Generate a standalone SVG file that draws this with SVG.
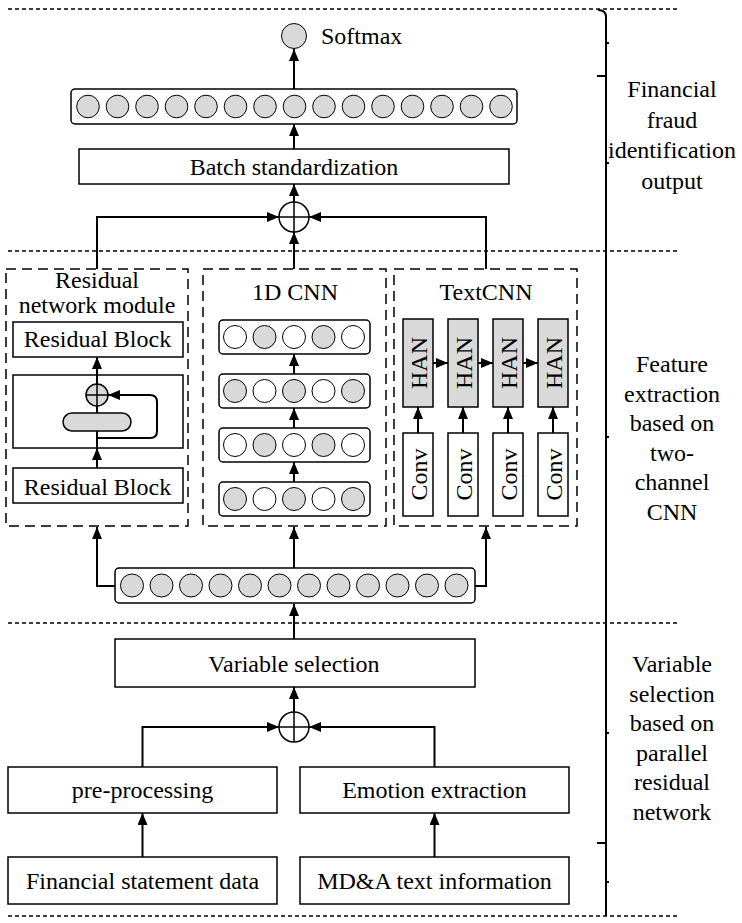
<svg xmlns="http://www.w3.org/2000/svg" width="742" height="923" viewBox="0 0 742 923">
<defs>
<marker id="arr" viewBox="0 0 12 10" markerWidth="12" markerHeight="10" refX="12" refY="5" orient="auto" markerUnits="userSpaceOnUse">
<path d="M0,0 L12,5 L0,10 z" fill="#000"/>
</marker>
</defs>
<style>
text{font-family:"Liberation Serif","Times New Roman",serif;font-size:24px;fill:#000}
.c{text-anchor:middle}
.box{fill:#fff;stroke:#000;stroke-width:1.5}
.grey{fill:#d9d9d9;stroke:#000;stroke-width:1.5}
.layer{fill:#fff;stroke:#000;stroke-width:1.5}
.dot{fill:#d9d9d9;stroke:#000;stroke-width:1}
.wdot{fill:#fff;stroke:#000;stroke-width:1}
.dash{fill:none;stroke:#000;stroke-width:1.5;stroke-dasharray:10,6}
.sep{fill:none;stroke:#000;stroke-width:1.5;stroke-dasharray:4,3}
.con{fill:none;stroke:#000;stroke-width:2}
.arrow{fill:none;stroke:#000;stroke-width:2;marker-end:url(#arr)}
.sum{fill:#fff;stroke:#000;stroke-width:1.5}
.brace{fill:none;stroke:#000;stroke-width:2}
</style>
<rect width="742" height="923" fill="#fff"/>

<g id="separators">
<line class="sep" x1="8" y1="9" x2="678" y2="9"/>
<line class="sep" x1="8" y1="251" x2="678" y2="251"/>
<line class="sep" x1="8" y1="623" x2="678" y2="623"/>
<line class="sep" x1="8" y1="916" x2="678" y2="916"/>
</g>

<g id="brace">
<path class="brace" d="M598,10 Q606,10 606,17 V916"/>
<path class="brace" d="M606,43 H609 M597,76 H606 M606,163 H609 M606,437 H609 M606,733 H609 M597,843 H606 M606,882 H609"/>
</g>

<g id="connectors">
<path class="arrow" d="M294,89 V49"/>
<path class="arrow" d="M294,149 V124"/>
<path class="arrow" d="M294,202 V184"/>
<path class="arrow" d="M97,269 V217 H279"/>
<path class="arrow" d="M486,269 V217 H309"/>
<path class="arrow" d="M294,269 V232"/>
<path class="arrow" d="M115,586 H97 V527"/>
<path class="arrow" d="M294,568 V527"/>
<path class="arrow" d="M475,586 H486 V527"/>
<path class="arrow" d="M294,639 V604"/>
<path class="arrow" d="M294,712 V687"/>
<path class="arrow" d="M142.5,767 V727 H279"/>
<path class="arrow" d="M434.5,767 V727 H309"/>
<path class="arrow" d="M142.5,857 V813"/>
<path class="arrow" d="M434.5,857 V813"/>
</g>

<g id="softmax">
<circle class="grey" cx="294" cy="36" r="12.5" style="stroke-width:1"/>
<text x="321" y="44">Softmax</text>
</g>

<g id="output-layer">
<rect class="layer" x="71" y="89" width="446" height="35" rx="4"/>
<circle class="dot" cx="88" cy="106.5" r="11.3"/>
<circle class="dot" cx="117.5" cy="106.5" r="11.3"/>
<circle class="dot" cx="147" cy="106.5" r="11.3"/>
<circle class="dot" cx="176.5" cy="106.5" r="11.3"/>
<circle class="dot" cx="206" cy="106.5" r="11.3"/>
<circle class="dot" cx="235.5" cy="106.5" r="11.3"/>
<circle class="dot" cx="265" cy="106.5" r="11.3"/>
<circle class="dot" cx="294.5" cy="106.5" r="11.3"/>
<circle class="dot" cx="324" cy="106.5" r="11.3"/>
<circle class="dot" cx="353.5" cy="106.5" r="11.3"/>
<circle class="dot" cx="383" cy="106.5" r="11.3"/>
<circle class="dot" cx="412.5" cy="106.5" r="11.3"/>
<circle class="dot" cx="442" cy="106.5" r="11.3"/>
<circle class="dot" cx="471.5" cy="106.5" r="11.3"/>
<circle class="dot" cx="501" cy="106.5" r="11.3"/>
</g>

<g id="batch-standardization">
<rect class="box" x="79" y="149" width="430" height="35"/>
<text class="c" x="294" y="175">Batch standardization</text>
</g>

<g id="sum-top">
<circle class="sum" cx="294" cy="217" r="15"/>
<path class="con" d="M279,217 H309 M294,202 V232" style="stroke-width:1.5"/>
</g>

<g id="residual-module">
<rect class="dash" x="6" y="269" width="182" height="257"/>
<text class="c" x="97" y="288">Residual</text>
<text class="c" x="97" y="313">network module</text>
<rect class="box" x="13" y="322" width="170" height="35"/>
<text class="c" x="97.5" y="347">Residual Block</text>
<rect class="box" x="13" y="375" width="170" height="73"/>
<path class="con" d="M97,448 V406"/>
<path class="arrow" d="M97,384 V357"/>
<path class="arrow" d="M97,468 V448"/>
<path class="arrow" d="M97,438 H150 Q157,438 157,431 V402 Q157,395 150,395 H108"/>
<rect class="grey" x="63" y="413" width="68" height="18" rx="9"/>
<circle class="grey" cx="97" cy="395" r="11"/>
<path class="con" d="M86,395 H108 M97,384 V406" style="stroke-width:1.5"/>
<rect class="box" x="13" y="468" width="170" height="35"/>
<text class="c" x="97.5" y="495">Residual Block</text>
</g>

<g id="cnn-1d">
<rect class="dash" x="203" y="269" width="183" height="257"/>
<text class="c" x="295" y="300">1D CNN</text>
<path class="arrow" d="M294,482 V462"/>
<path class="arrow" d="M294,428 V408"/>
<path class="arrow" d="M294,374 V354"/>
<rect class="layer" x="219" y="320" width="151" height="34" rx="4"/>
<circle class="wdot" cx="235" cy="337" r="11.5"/>
<circle class="dot" cx="264.5" cy="337" r="11.5"/>
<circle class="wdot" cx="294" cy="337" r="11.5"/>
<circle class="dot" cx="323.5" cy="337" r="11.5"/>
<circle class="wdot" cx="353" cy="337" r="11.5"/>
<rect class="layer" x="219" y="374" width="151" height="34" rx="4"/>
<circle class="dot" cx="235" cy="391" r="11.5"/>
<circle class="wdot" cx="264.5" cy="391" r="11.5"/>
<circle class="dot" cx="294" cy="391" r="11.5"/>
<circle class="wdot" cx="323.5" cy="391" r="11.5"/>
<circle class="dot" cx="353" cy="391" r="11.5"/>
<rect class="layer" x="219" y="428" width="151" height="34" rx="4"/>
<circle class="wdot" cx="235" cy="445" r="11.5"/>
<circle class="dot" cx="264.5" cy="445" r="11.5"/>
<circle class="wdot" cx="294" cy="445" r="11.5"/>
<circle class="dot" cx="323.5" cy="445" r="11.5"/>
<circle class="wdot" cx="353" cy="445" r="11.5"/>
<rect class="layer" x="219" y="482" width="151" height="34" rx="4"/>
<circle class="dot" cx="235" cy="499" r="11.5"/>
<circle class="wdot" cx="264.5" cy="499" r="11.5"/>
<circle class="dot" cx="294" cy="499" r="11.5"/>
<circle class="wdot" cx="323.5" cy="499" r="11.5"/>
<circle class="dot" cx="353" cy="499" r="11.5"/>
</g>

<g id="textcnn">
<rect class="dash" x="394" y="269" width="183" height="257"/>
<text class="c" x="486" y="300">TextCNN</text>
<path class="arrow" d="M433,363 H448"/>
<path class="arrow" d="M478,363 H493"/>
<path class="arrow" d="M523,363 H538"/>
<path class="arrow" d="M418,433 V407"/>
<path class="arrow" d="M463,433 V407"/>
<path class="arrow" d="M508,433 V407"/>
<path class="arrow" d="M553,433 V407"/>
<rect class="grey" x="403" y="319" width="30" height="88"/>
<rect class="grey" x="448" y="319" width="30" height="88"/>
<rect class="grey" x="493" y="319" width="30" height="88"/>
<rect class="grey" x="538" y="319" width="30" height="88"/>
<text class="c" transform="translate(426.5,363) rotate(-90)">HAN</text>
<text class="c" transform="translate(471.5,363) rotate(-90)">HAN</text>
<text class="c" transform="translate(516.5,363) rotate(-90)">HAN</text>
<text class="c" transform="translate(561.5,363) rotate(-90)">HAN</text>
<rect class="box" x="403" y="433" width="30" height="83"/>
<rect class="box" x="448" y="433" width="30" height="83"/>
<rect class="box" x="493" y="433" width="30" height="83"/>
<rect class="box" x="538" y="433" width="30" height="83"/>
<text class="c" transform="translate(426.5,474.5) rotate(-90)">Conv</text>
<text class="c" transform="translate(471.5,474.5) rotate(-90)">Conv</text>
<text class="c" transform="translate(516.5,474.5) rotate(-90)">Conv</text>
<text class="c" transform="translate(561.5,474.5) rotate(-90)">Conv</text>
</g>

<g id="feature-layer">
<rect class="layer" x="115" y="568" width="360" height="35" rx="4"/>
<circle class="dot" cx="132" cy="585.5" r="11.5"/>
<circle class="dot" cx="161.5" cy="585.5" r="11.5"/>
<circle class="dot" cx="191" cy="585.5" r="11.5"/>
<circle class="dot" cx="220.5" cy="585.5" r="11.5"/>
<circle class="dot" cx="250" cy="585.5" r="11.5"/>
<circle class="dot" cx="279.5" cy="585.5" r="11.5"/>
<circle class="dot" cx="309" cy="585.5" r="11.5"/>
<circle class="dot" cx="338.5" cy="585.5" r="11.5"/>
<circle class="dot" cx="368" cy="585.5" r="11.5"/>
<circle class="dot" cx="397.5" cy="585.5" r="11.5"/>
<circle class="dot" cx="427" cy="585.5" r="11.5"/>
<circle class="dot" cx="456.5" cy="585.5" r="11.5"/>
</g>

<g id="variable-selection">
<rect class="box" x="115" y="639" width="360" height="48"/>
<text class="c" x="294" y="672">Variable selection</text>
</g>

<g id="sum-bottom">
<circle class="sum" cx="294" cy="727" r="15"/>
<path class="con" d="M279,727 H309 M294,712 V742" style="stroke-width:1.5"/>
</g>

<g id="pre-processing">
<rect class="box" x="8" y="767" width="269" height="46"/>
<text class="c" x="142.5" y="798">pre-processing</text>
</g>

<g id="emotion-extraction">
<rect class="box" x="300" y="767" width="269" height="46"/>
<text class="c" x="434.5" y="798">Emotion extraction</text>
</g>

<g id="financial-statement-data">
<rect class="box" x="8" y="857" width="269" height="47"/>
<text class="c" x="142.5" y="889">Financial statement data</text>
</g>

<g id="mda-text">
<rect class="box" x="300" y="857" width="269" height="47"/>
<text class="c" x="434.5" y="889">MD&amp;A text information</text>
</g>

<g id="labels">
<text class="c" x="672" y="97">Financial</text>
<text class="c" x="672" y="127.5">fraud</text>
<text class="c" x="672" y="158">identification</text>
<text class="c" x="672" y="188.5">output</text>
<text class="c" x="672" y="372">Feature</text>
<text class="c" x="672" y="401.5">extraction</text>
<text class="c" x="672" y="431">based on</text>
<text class="c" x="672" y="460.5">two-</text>
<text class="c" x="672" y="490">channel</text>
<text class="c" x="672" y="519.5">CNN</text>
<text class="c" x="672" y="672">Variable</text>
<text class="c" x="672" y="701.5">selection</text>
<text class="c" x="672" y="731">based on</text>
<text class="c" x="672" y="760.5">parallel</text>
<text class="c" x="672" y="790">residual</text>
<text class="c" x="672" y="819.5">network</text>
</g>
</svg>
